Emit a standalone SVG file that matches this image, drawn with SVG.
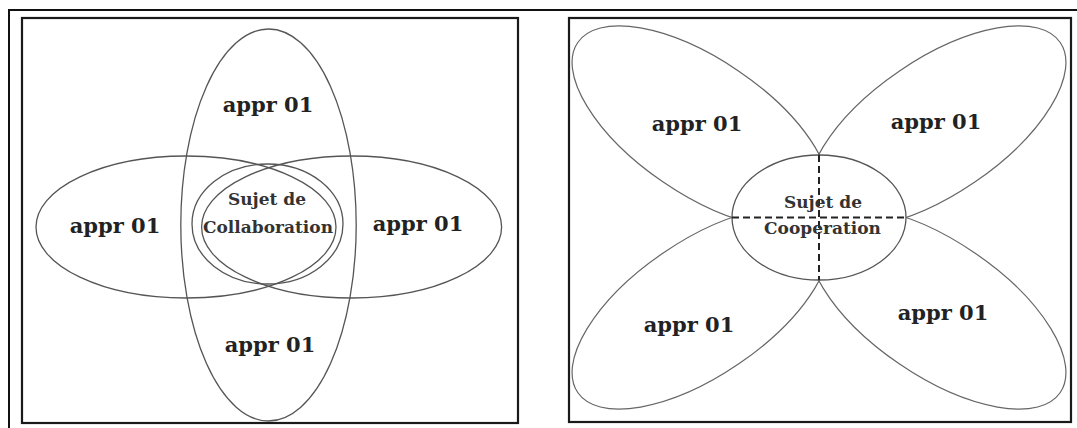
<svg xmlns="http://www.w3.org/2000/svg" width="1077" height="428" viewBox="0 0 1077 428">
  <style>
    .frame { fill: none; stroke: #111; stroke-width: 2; }
    .box { fill: none; stroke: #1a1a1a; stroke-width: 2.2; }
    .shape { fill: none; stroke: #555; stroke-width: 1.3; }
    .petal { fill: none; stroke: #666; stroke-width: 1.2; }
    .core { fill: #fff; stroke: #555; stroke-width: 1.3; }
    .dash { fill: none; stroke: #222; stroke-width: 2; stroke-dasharray: 7 4; }
    .lbl { font-family: "DejaVu Serif", "Liberation Serif", serif; font-weight: bold; font-size: 21px; fill: #222; text-anchor: middle; }
    .lblc { font-family: "DejaVu Serif", "Liberation Serif", serif; font-weight: bold; font-size: 17px; fill: #333; text-anchor: middle; }
    .lblr { font-family: "DejaVu Serif", "Liberation Serif", serif; font-weight: bold; font-size: 17px; fill: #333; text-anchor: middle; }
  </style>
  <rect x="0" y="0" width="1077" height="428" fill="#fff"/>
  <g id="frame">
    <path class="frame" d="M9 428 V10 H1077"/>
    <rect class="box" x="22" y="18" width="496" height="405"/>
    <rect class="box" x="569" y="18" width="502" height="404"/>
  </g>

  <!-- Left: collaboration -->
  <g id="collab-top">
    <ellipse class="shape" cx="268.5" cy="225" rx="87.7" ry="196"/>
  </g>
  <g id="collab-left">
    <ellipse class="shape" cx="186" cy="227" rx="150" ry="71"/>
  </g>
  <g id="collab-right">
    <ellipse class="shape" cx="351.6" cy="227" rx="150" ry="71"/>
  </g>
  <g id="collab-center">
    <ellipse class="shape" cx="267.5" cy="224" rx="75.5" ry="60"/>
    <text class="lblc" x="267" y="205">Sujet de</text>
    <text class="lblc" x="268" y="233">Collaboration</text>
  </g>
  <g id="collab-labels">
    <text class="lbl" x="268" y="112">appr 01</text>
    <text class="lbl" x="115" y="233">appr 01</text>
    <text class="lbl" x="418" y="231">appr 01</text>
    <text class="lbl" x="270" y="352">appr 01</text>
  </g>

  <!-- Right: cooperation -->
  <g id="coop-petal-tl">
    <ellipse class="petal" cx="701" cy="126.6" rx="149.2" ry="67.1" transform="rotate(34.3 701 126.6)"/>
  </g>
  <g id="coop-petal-tr">
    <ellipse class="petal" cx="937" cy="126.6" rx="149.2" ry="67.1" transform="rotate(-34.3 937 126.6)"/>
  </g>
  <g id="coop-petal-bl">
    <ellipse class="petal" cx="701" cy="308.4" rx="149.2" ry="67.1" transform="rotate(-34.3 701 308.4)"/>
  </g>
  <g id="coop-petal-br">
    <ellipse class="petal" cx="937" cy="308.4" rx="149.2" ry="67.1" transform="rotate(34.3 937 308.4)"/>
  </g>
  <g id="coop-center">
    <ellipse class="core" cx="819" cy="217.5" rx="87" ry="62.5"/>
  </g>
  <g id="connectors">
    <line class="dash" x1="819" y1="155" x2="819" y2="280"/>
    <line class="dash" x1="732" y1="217.5" x2="906" y2="217.5"/>
  </g>
  <g id="coop-labels">
    <text class="lblr" x="823" y="208">Sujet de</text>
    <text class="lblr" x="822.5" y="234">Cooperation</text>
    <text class="lbl" x="697" y="131">appr 01</text>
    <text class="lbl" x="936" y="129">appr 01</text>
    <text class="lbl" x="689" y="332">appr 01</text>
    <text class="lbl" x="943" y="320">appr 01</text>
  </g>
</svg>
